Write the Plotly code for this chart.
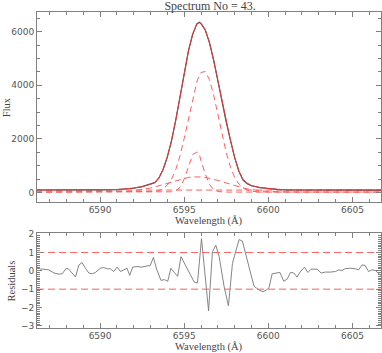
import plotly.graph_objects as go

# Espectro: longitudes de onda y flujo (observado y ajuste)
wl = [6586.2, 6587.0, 6588.0, 6589.0, 6590.0, 6591.0, 6591.5, 6592.0, 6592.5, 6593.0,
      6593.25, 6593.5, 6593.75, 6594.0, 6594.25, 6594.5, 6594.75, 6595.0, 6595.25, 6595.5,
      6595.75, 6595.9, 6596.0, 6596.25, 6596.5, 6596.75, 6597.0, 6597.25, 6597.5, 6597.75,
      6598.0, 6598.25, 6598.5, 6598.75, 6599.0, 6599.5, 6600.0, 6600.5, 6601.0, 6602.0,
      6603.0, 6604.0, 6605.0, 6606.0, 6606.8]
flux_fit = [95, 95, 96, 97, 100, 115, 135, 165, 220, 315,
            380, 550, 870, 1340, 1944, 2700, 3555, 4445, 5265, 5905,
            6275, 6335, 6310, 6075, 5590, 4930, 4165, 3375, 2620, 1950,
            1300, 800, 480, 340, 260, 190, 150, 120, 105, 98,
            96, 95, 95, 95, 95]
flux_obs = [97, 94, 95, 98, 102, 113, 138, 163, 224, 318,
            372, 548, 874, 1333, 1950, 2710, 3548, 4452, 5270, 5890,
            6290, 6350, 6300, 6060, 5600, 4945, 4150, 3370, 2630, 1960,
            1310, 795, 470, 335, 255, 185, 148, 122, 104, 97,
            97, 94, 96, 95, 94]

# Componentes del ajuste (lineas discontinuas)
comp_broad = [20, 20, 20, 20, 20, 20, 20, 20, 20, 30,
              45, 79, 149, 281, 507, 861, 1367, 2018, 2761, 3500,
              4115, 4390, 4477, 4513, 4210, 3641, 2913, 2162, 1489, 951,
              566, 317, 170, 95, 50, 24, 20, 20, 20, 20,
              20, 20, 20, 20, 20]
comp_narrow = [20, 20, 20, 20, 20, 20, 20, 20, 20, 20,
               20, 20, 20, 21, 30, 68, 198, 502, 976, 1414,
               1512, 1420, 1193, 697, 307, 109, 40, 23, 20, 20,
               20, 20, 20, 20, 20, 20, 20, 20, 20, 20,
               20, 20, 20, 20, 20]
comp_wide = [20, 20, 20, 21, 22, 32, 45, 70, 112, 174,
             213, 257, 305, 356, 406, 455, 499, 537, 566, 584,
             590, 588, 584, 566, 537, 499, 455, 406, 356, 305,
             257, 213, 174, 140, 112, 70, 45, 32, 25, 21,
             20, 20, 20, 20, 20]
continuum = [95] * len(wl)

# Residuos
res_wl = [6586.25, 6586.47, 6586.66, 6586.96, 6587.26, 6587.55, 6587.75, 6587.99, 6588.14, 6588.34,
          6588.54, 6588.74, 6588.93, 6589.13, 6589.33, 6589.53, 6589.72, 6590.02, 6590.22, 6590.42,
          6590.61, 6590.81, 6591.01, 6591.21, 6591.40, 6591.60, 6591.76, 6591.94, 6592.19, 6592.49,
          6592.79, 6592.98, 6593.17, 6593.36, 6593.62, 6593.82, 6594.02, 6594.21, 6594.41, 6594.61,
          6594.81, 6595.10, 6595.40, 6595.60, 6595.79, 6596.03, 6596.45, 6596.68, 6596.88, 6597.08,
          6597.37, 6597.63, 6597.87, 6598.02, 6598.26, 6598.46, 6598.70, 6598.89, 6599.15, 6599.45,
          6599.68, 6599.88, 6600.04, 6600.23, 6600.49, 6600.69, 6600.92, 6601.12, 6601.32, 6601.52,
          6601.71, 6601.91, 6602.15, 6602.35, 6602.54, 6602.90, 6603.14, 6603.39, 6603.69, 6603.99,
          6604.18, 6604.38, 6604.58, 6604.87, 6605.17, 6605.37, 6605.57, 6605.76, 6605.96, 6606.16,
          6606.36, 6606.55, 6606.69]
res_val = [0.22, 0.09, 0.09, 0.05, -0.12, -0.18, -0.16, 0.14, 0.09, -0.12,
           -0.34, 0.32, 0.45, 0.14, -0.12, -0.16, -0.09, 0.14, 0.18, 0.11,
           0.11, -0.04, 0.2, -0.04, 0.05, 0.14, -0.25, 0.2, 0.23, 0.2,
           0.27, 0.28, 0.73, 0.09, -0.52, -0.48, -0.57, 0.14, -0.09, -0.3,
           0.77, 0.27, -0.3, -0.62, -0.66, 1.75, -2.18, 1.04, 1.39, 0.77,
           -0.84, -1.91, 0.41, 0.95, 1.7, 1.62, 0.77, 0.23, -0.84, -1.05,
           -1.14, -1.05, -0.93, -0.16, -0.12, -0.09, -0.57, -0.45, -0.09, -0.12,
           -0.34, -0.04, 0.2, -0.09, 0.09, 0.09, -0.12, -0.07, -0.07, -0.04,
           0.05, 0.02, 0.12, 0.14, 0.11, 0.05, 0.32, 0.29, -0.04, 0.05,
           0.02, -0.12, -0.25]
limits = [1, -1]

red = 'rgb(232,60,60)'
dashred = 'rgb(255,95,95)'
frame = '#808080'
tickfont = dict(family='DejaVu Sans', size=9, color='#555')
titlefont = dict(family='Liberation Serif', size=10.5, color='#444')

fig = go.Figure()
# Componentes
for comp in [continuum, comp_wide, comp_narrow, comp_broad]:
    fig.add_trace(go.Scatter(x=wl, y=comp, mode='lines', line=dict(color=dashred, width=1, dash='6px,4px'),
                             xaxis='x', yaxis='y'))
# Observado y ajuste
fig.add_trace(go.Scatter(x=wl, y=flux_obs, mode='lines', line=dict(color='#444', width=1.2), xaxis='x', yaxis='y'))
fig.add_trace(go.Scatter(x=wl, y=flux_fit, mode='lines', line=dict(color=red, width=1), xaxis='x', yaxis='y'))

# Residuos
fig.add_trace(go.Scatter(x=res_wl, y=res_val, mode='lines', line=dict(color='#777', width=0.9), xaxis='x2', yaxis='y2'))
for lim in limits:
    fig.add_trace(go.Scatter(x=[6586.25, 6606.7], y=[lim, lim], mode='lines',
                             line=dict(color=dashred, width=1, dash='7px,4px'), xaxis='x2', yaxis='y2'))

xcommon = dict(range=[6586.25, 6606.7], tickvals=[6590, 6595, 6600, 6605], tickformat='d',
               ticks='inside', ticklen=5, tickcolor=frame, showline=True, linecolor=frame, linewidth=1,
               mirror='allticks', showgrid=False, zeroline=False, tickfont=tickfont, automargin=False,
               minor=dict(dtick=1, ticklen=3, ticks='inside', tickcolor=frame, showgrid=False))
ycommon = dict(ticks='inside', ticklen=5, tickcolor=frame, showline=True, linecolor=frame,
               mirror='allticks', showgrid=False, zeroline=False, tickfont=tickfont, automargin=False)

fig.update_layout(
    width=382, height=353,
    margin=dict(l=37, r=1, t=12, b=25),
    paper_bgcolor='white', plot_bgcolor='white',
    showlegend=False,
    title=dict(text='Spectrum No = 43.', x=0.55, xanchor='center', y=0.983, yanchor='middle',
               font=dict(family='Liberation Serif', size=12, color='#444')),
    xaxis=dict(domain=[0, 1], anchor='y', **xcommon),
    yaxis=dict(domain=[0.4, 0.999], range=[-335, 6720], dtick=2000, tickformat='d',
               minor=dict(dtick=500, ticklen=3, ticks='inside', tickcolor=frame, showgrid=False), **ycommon),
    xaxis2=dict(domain=[0, 1], anchor='y2', **xcommon),
    yaxis2=dict(domain=[0.001, 0.3], range=[-3.1, 2.05], dtick=1,
                minor=dict(dtick=0.1, ticklen=3, ticks='inside', tickcolor=frame, showgrid=False), **ycommon),
)

# Titulos de los ejes como anotaciones
fig.add_annotation(text='Wavelength (Å)', x=0.5, y=0.3386, xref='paper', yref='paper',
                   showarrow=False, font=titlefont, yanchor='middle')
fig.add_annotation(text='Wavelength (Å)', x=0.5, y=-0.060, xref='paper', yref='paper',
                   showarrow=False, font=titlefont, yanchor='middle')
fig.add_annotation(text='Flux', x=-0.089, y=0.7, xref='paper', yref='paper', textangle=-90,
                   showarrow=False, font=titlefont, xanchor='center', yanchor='middle')
fig.add_annotation(text='Residuals', x=-0.073, y=0.15, xref='paper', yref='paper', textangle=-90,
                   showarrow=False, font=titlefont, xanchor='center', yanchor='middle')

# Quita el margen del body para que la figura ocupe la ventana
fig.write_html("out.html", config={'displayModeBar': False},
               post_script="document.body.style.margin='0';")
